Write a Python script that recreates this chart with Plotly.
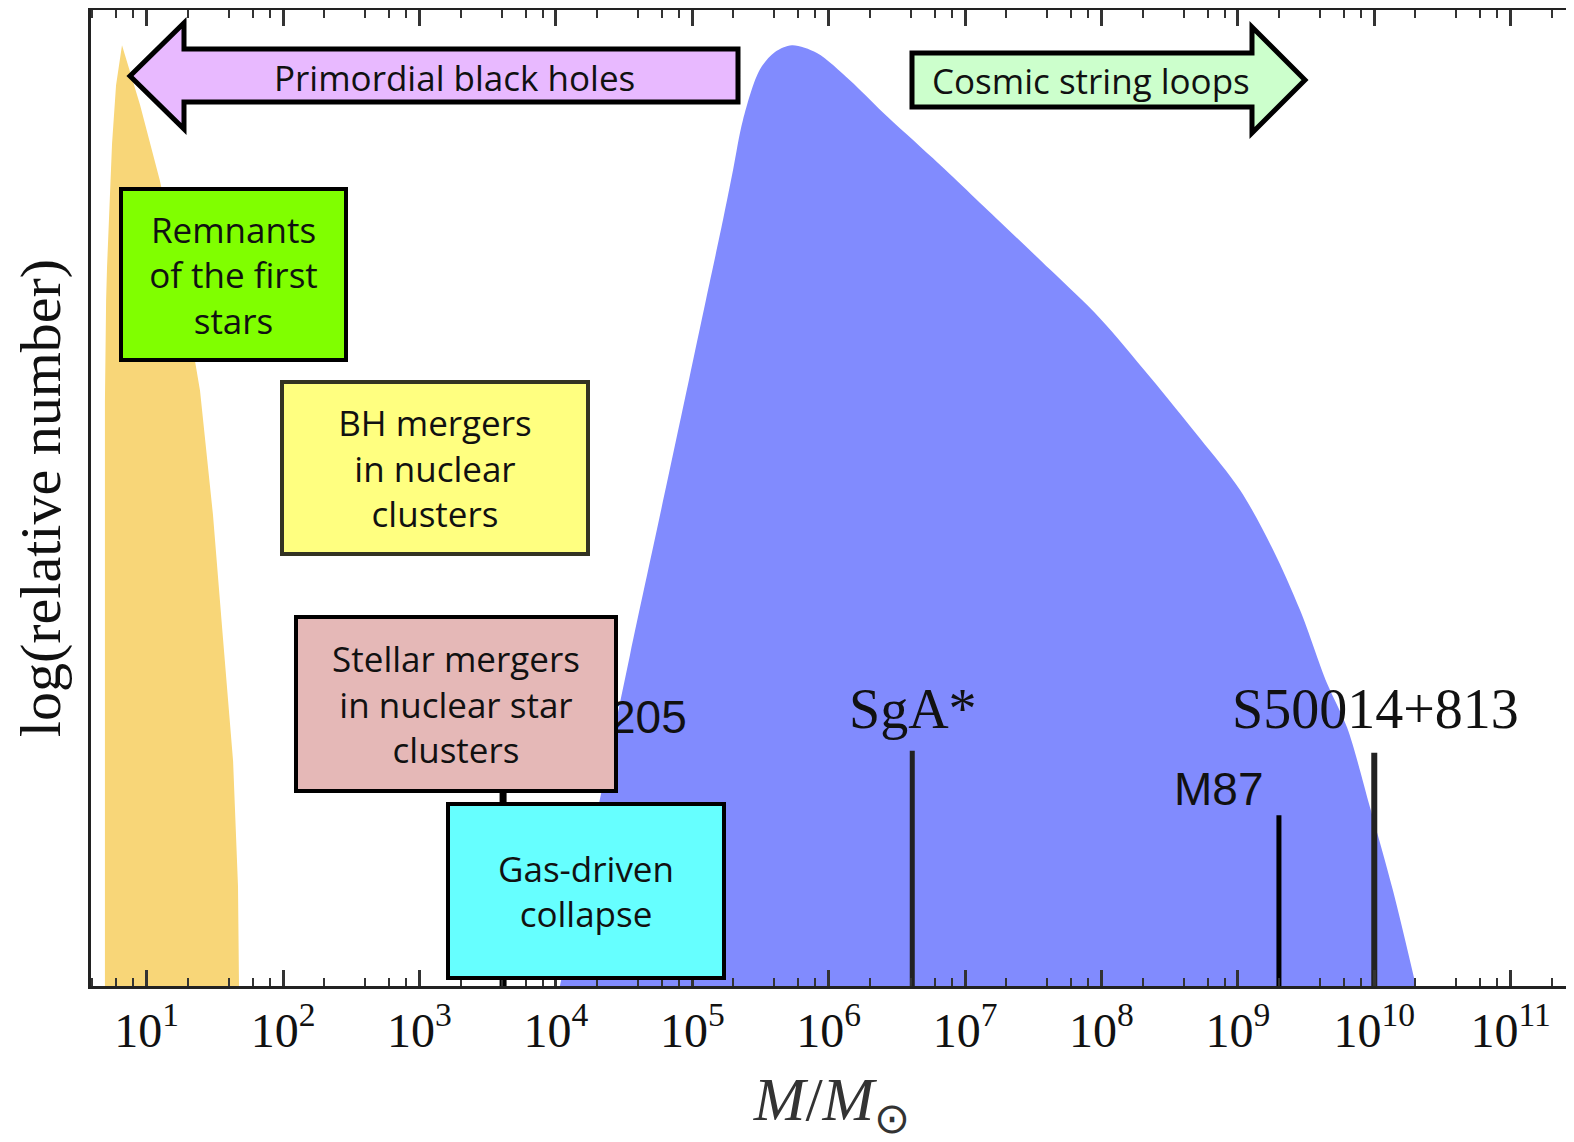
import plotly.graph_objects as go

# ---- values ----
# remnants of the first stars (orange), outline: mass [M_sun] vs relative height
pop3_mass = [4.94, 4.94, 5.04, 5.12, 5.57, 5.96, 6.59, 8.93, 12.5, 18.2,
             24.6, 30.6, 36.2, 43.0, 46.7, 47.5]
pop3_level = [0.0, 0.600, 0.703, 0.737, 0.863, 0.923, 0.964, 0.903, 0.825, 0.718,
              0.610, 0.483, 0.357, 0.230, 0.102, 0.0]

# massive black hole population (blue)
mbh_mass = [1.07e4, 2.10e4, 3.49e4, 5.79e4, 9.45e4, 1.26e5, 1.68e5, 1.99e5, 2.35e5,
            3.13e5, 4.04e5, 5.38e5, 8.20e5, 1.43e6, 2.50e6, 5.82e6, 1.80e7, 4.20e7,
            9.77e7, 2.27e8, 5.28e8, 1.04e9, 1.81e9, 2.86e9, 4.51e9, 6.31e9, 9.31e9,
            1.37e10, 2.02e10]
mbh_level = [0.0, 0.191, 0.339, 0.482, 0.621, 0.703, 0.785, 0.836, 0.887,
             0.939, 0.957, 0.964, 0.956, 0.928, 0.895, 0.848, 0.783, 0.734,
             0.684, 0.624, 0.561, 0.508, 0.447, 0.385, 0.310, 0.265, 0.183,
             0.098, 0.0]

# individual black holes
obj_names = ["205", "SgA*", "M87", "S50014+813"]
obj_mass = [4.1e3, 4.1e6, 2.0e9, 1.0e10]
obj_top = [0.25, 0.241, 0.175, 0.239]

# axis ticks
tick_exp = list(range(1, 12))
tick_vals = [10 ** k for k in tick_exp]
tick_text = ["10<sup>%d</sup>" % k for k in tick_exp]
minor_vals = [m * 10 ** k for k in range(0, 12) for m in (2, 4, 6, 8)]

SERIF = "Liberation Serif, Times New Roman, serif"
SANS = "Liberation Sans, Arial, sans-serif"
BOX_FONT = "Open Sans, sans-serif"

# page pixel -> paper helpers for the drawn decorations
def px(x):
    return (x - 91) / 1482

def py(y):
    return (986 - y) / 976


fig = go.Figure()

fig.add_trace(go.Scatter(x=pop3_mass, y=pop3_level, mode="lines", fill="toself",
                         fillcolor="#F8D678", line=dict(width=0), hoverinfo="skip"))
fig.add_trace(go.Scatter(x=mbh_mass, y=mbh_level, mode="lines", fill="toself",
                         fillcolor="#818BFE", line=dict(width=0, shape="spline", smoothing=0.9),
                         hoverinfo="skip"))

line_w = [7, 5, 5, 6]
line_c = ["#000000", "#222222", "#000000", "#222222"]
for m, top, w, c, name in zip(obj_mass, obj_top, line_w, line_c, obj_names):
    fig.add_trace(go.Scatter(x=[m, m], y=[0, top], mode="lines", name=name,
                             line=dict(color=c, width=w)))

annotations = []
# object labels (before the boxes so the boxes paint over them)
labels = [
    ("205", 648, 717, SANS, 46),
    ("SgA*", 913, 709, SERIF, 56),
    ("M87", 1218, 789, SANS, 46),
    ("S50014+813", 1375, 709, SERIF, 56),
]
for text, x, y, fam, size in labels:
    annotations.append(dict(x=px(x), y=py(y), xref="paper", yref="paper", text=text,
                            showarrow=False, xanchor="center", yanchor="middle",
                            font=dict(family=fam, size=size, color="#111111")))

boxes = [
    ("Remnants<br>of the first<br>stars", 119, 187, 348, 362, "#80FF00", "#000000"),
    ("BH mergers<br>in nuclear<br>clusters", 280, 380, 590, 556, "#FFFF80", "#333322"),
    ("Stellar mergers<br>in nuclear star<br>clusters", 294, 615, 618, 793, "#E5B8B7", "#000000"),
    ("Gas-driven<br>collapse", 446, 802, 726, 980, "#66FFFF", "#000000"),
]
for text, x0, y0, x1, y1, fc, bc in boxes:
    annotations.append(dict(x=px((x0 + x1) / 2), y=py((y0 + y1) / 2), xref="paper", yref="paper",
                            text=text, showarrow=False, xanchor="center", yanchor="middle",
                            width=x1 - x0 - 8, height=y1 - y0 - 8, bgcolor=fc, bordercolor=bc,
                            borderwidth=4, borderpad=0, align="center", valign="middle",
                            font=dict(family=BOX_FONT, size=35, color="#111111")))

for text, x, y in [("Primordial black holes", 454, 77), ("Cosmic string loops", 1091, 80)]:
    annotations.append(dict(x=px(x), y=py(y), xref="paper", yref="paper", text=text,
                            showarrow=False, xanchor="center", yanchor="middle",
                            font=dict(family=BOX_FONT, size=35, color="#111111")))


def path(points):
    return "M " + " L ".join("%.5f,%.5f" % (px(x), py(y)) for x, y in points) + " Z"


shapes = [
    dict(type="path", xref="paper", yref="paper", layer="above",
         path=path([(130, 76), (184, 23), (184, 49), (738, 49), (738, 102), (184, 102), (184, 129)]),
         fillcolor="#E8B9FF", line=dict(color="#000000", width=5)),
    dict(type="path", xref="paper", yref="paper", layer="above",
         path=path([(912, 53), (1252, 53), (1252, 27), (1305, 80), (1252, 133), (1252, 107), (912, 107)]),
         fillcolor="#CCFFCC", line=dict(color="#000000", width=5)),
]

fig.update_xaxes(
    type="log", range=[0.5916, 11.457],
    tickvals=tick_vals, ticktext=tick_text,
    ticks="inside", ticklen=16, tickwidth=2.5, tickcolor="#333333",
    minor=dict(tickvals=minor_vals, ticks="inside", ticklen=8, tickwidth=2, tickcolor="#333333"),
    showline=True, linewidth=3, linecolor="#222222", mirror="ticks",
    showgrid=False, zeroline=False,
    tickfont=dict(family=SERIF, size=48, color="#111111"),
    title=dict(text="<i>M</i>/<i>M</i><sub>\u2299</sub>",
               font=dict(family=SERIF, size=62, color="#333333"), standoff=32),
    automargin=False,
)
fig.update_yaxes(
    range=[0, 1], showticklabels=False, ticks="",
    showline=True, linewidth=3, linecolor="#222222", mirror=True,
    showgrid=False, zeroline=False,
    title=dict(text="log(relative number)",
               font=dict(family=SERIF, size=58, color="#111111"), standoff=11),
    automargin=False,
)

# the page puts the figure 8 px in from the top-left corner
fig.update_layout(
    width=1566, height=1134,
    margin=dict(l=83, r=1, t=2, b=156),
    plot_bgcolor="white", paper_bgcolor="white",
    showlegend=False,
    annotations=annotations,
    shapes=shapes,
)

fig.write_html("out.html")
